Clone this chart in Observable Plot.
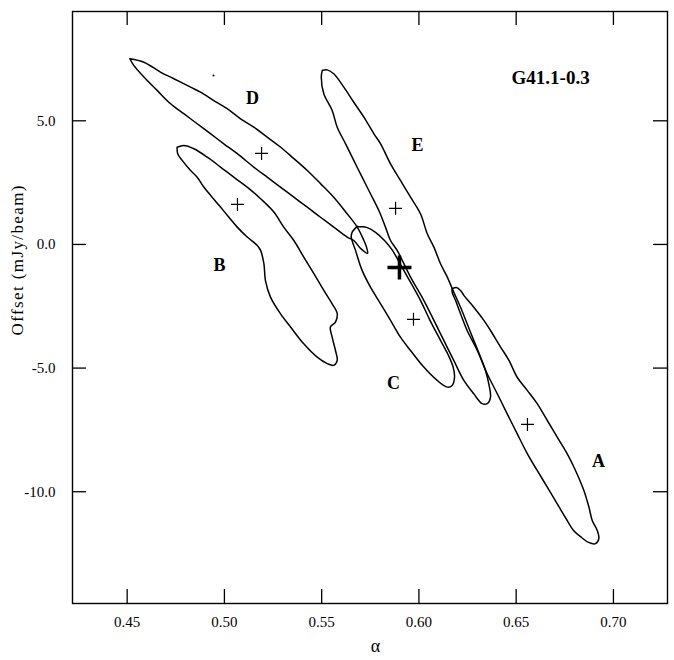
<!DOCTYPE html>
<html><head><meta charset="utf-8">
<script src="https://cdn.jsdelivr.net/npm/d3@7"></script>
<script src="https://cdn.jsdelivr.net/npm/@observablehq/plot@0.6"></script>
<style>body{margin:0;background:#fff}</style>
</head><body><div id="chart"></div>
<script>
// ---- tick values ----
const xTicks = [0.45, 0.50, 0.55, 0.60, 0.65, 0.70];
const yTicks = [5, 0, -5, -10];

// ---- contour outlines: [alpha, offset] ----
const contourA = [[0.6171,-1.79],[0.6193,-1.74],[0.6214,-1.86],[0.6231,-2.06],[0.6282,-2.54],[0.6334,-3.07],[0.6368,-3.48],[0.6420,-4.15],[0.6463,-4.69],[0.6505,-5.37],[0.6557,-5.90],[0.6608,-6.44],[0.6660,-7.12],[0.6711,-7.79],[0.6762,-8.46],[0.6805,-9.14],[0.6848,-9.95],[0.6874,-10.62],[0.6891,-11.16],[0.6917,-11.57],[0.6925,-11.90],[0.6908,-12.10],[0.6872,-12.05],[0.6836,-11.85],[0.6795,-11.57],[0.6762,-11.16],[0.6711,-10.49],[0.6660,-9.81],[0.6608,-9.14],[0.6557,-8.46],[0.6505,-7.65],[0.6454,-6.85],[0.6403,-6.04],[0.6351,-5.23],[0.6300,-4.29],[0.6248,-3.48],[0.6214,-2.80],[0.6188,-2.26],[0.6171,-1.94]];
const contourB = [[0.4757,3.93],[0.4791,4.00],[0.4843,3.87],[0.4912,3.53],[0.4980,3.13],[0.5048,2.72],[0.5117,2.32],[0.5186,1.85],[0.5254,1.31],[0.5305,0.70],[0.5357,0.16],[0.5408,-0.51],[0.5460,-1.18],[0.5511,-1.86],[0.5554,-2.40],[0.5580,-2.80],[0.5571,-3.14],[0.5545,-3.34],[0.5554,-3.75],[0.5571,-4.29],[0.5580,-4.69],[0.5562,-4.89],[0.5529,-4.82],[0.5477,-4.56],[0.5408,-4.02],[0.5340,-3.34],[0.5288,-2.80],[0.5237,-2.13],[0.5211,-1.46],[0.5203,-0.78],[0.5186,-0.24],[0.5169,-0.04],[0.5117,0.30],[0.5066,0.70],[0.5023,1.10],[0.4980,1.51],[0.4937,1.91],[0.4894,2.32],[0.4860,2.72],[0.4826,2.99],[0.4783,3.40],[0.4760,3.67]];
const contourC = [[0.5683,0.73],[0.5657,0.50],[0.5652,0.30],[0.5674,-0.24],[0.5708,-1.05],[0.5751,-1.73],[0.5803,-2.40],[0.5854,-3.07],[0.5905,-3.75],[0.5957,-4.29],[0.6025,-4.96],[0.6094,-5.50],[0.6146,-5.77],[0.6171,-5.70],[0.6183,-5.37],[0.6176,-4.96],[0.6152,-4.49],[0.6111,-3.88],[0.6057,-3.07],[0.6008,-2.26],[0.5952,-1.46],[0.5905,-0.81],[0.5864,-0.24],[0.5823,0.16],[0.5777,0.49],[0.5731,0.69]];
const contourD = [[0.4514,7.51],[0.4586,7.37],[0.4671,6.97],[0.4740,6.70],[0.4826,6.36],[0.4877,6.16],[0.4945,5.82],[0.5014,5.49],[0.5083,5.08],[0.5151,4.74],[0.5220,4.34],[0.5288,3.94],[0.5357,3.47],[0.5426,2.99],[0.5494,2.46],[0.5562,1.91],[0.5631,1.24],[0.5683,0.70],[0.5717,0.16],[0.5731,-0.12],[0.5736,-0.36],[0.5700,-0.16],[0.5665,0.16],[0.5631,0.30],[0.5562,0.70],[0.5494,1.10],[0.5426,1.51],[0.5357,1.91],[0.5288,2.32],[0.5220,2.72],[0.5151,3.13],[0.5066,3.67],[0.4997,4.07],[0.4928,4.48],[0.4860,4.88],[0.4791,5.29],[0.4723,5.69],[0.4654,6.23],[0.4586,6.77],[0.4534,7.24]];
const contourE = [[0.5503,7.04],[0.5529,7.06],[0.5562,6.90],[0.5614,6.36],[0.5665,5.75],[0.5717,5.15],[0.5768,4.48],[0.5803,4.07],[0.5854,3.26],[0.5905,2.59],[0.5957,1.91],[0.6008,1.24],[0.6043,0.43],[0.6077,-0.11],[0.6111,-0.78],[0.6146,-1.32],[0.6179,-1.93],[0.6214,-2.54],[0.6248,-3.21],[0.6282,-3.88],[0.6317,-4.56],[0.6342,-5.10],[0.6359,-5.63],[0.6368,-6.17],[0.6351,-6.44],[0.6325,-6.44],[0.6282,-6.04],[0.6231,-5.50],[0.6179,-4.69],[0.6128,-3.88],[0.6077,-3.07],[0.6025,-2.26],[0.5957,-1.32],[0.5888,-0.24],[0.5854,0.16],[0.5828,0.70],[0.5794,1.37],[0.5751,2.05],[0.5708,2.72],[0.5665,3.40],[0.5623,4.07],[0.5580,4.74],[0.5554,5.42],[0.5511,6.09],[0.5498,6.77]];

// ---- source labels ----
const sourceNames = ["A", "B", "C", "D", "E"];
const sourceLabelAlpha = [0.6923, 0.4975, 0.5869, 0.5144, 0.5993];
const sourceLabelOffset = [-8.77, -0.85, -5.62, 5.90, 4.00];

// ---- fitted positions (small crosses) ----
const crossAlpha = [0.6558, 0.5067, 0.5972, 0.5191, 0.5880];
const crossOffset = [-7.28, 1.62, -3.03, 3.68, 1.46];
// combined position (bold cross)
const mainAlpha = [0.5900];
const mainOffset = [-0.93];

// stray mark
const specAlpha = [0.4944];
const specOffset = [6.83];

const titleText = "G41.1-0.3";
const titleAlpha = [0.6677];
const titleOffset = [6.75];

const xLabel = "α";
const yLabel = "Offset (mJy/beam)";

// build contour table
const contours = {A: contourA, B: contourB, C: contourC, D: contourD, E: contourE};
const contourRows = [];
for (const name of sourceNames) {
  const pts = contours[name];
  for (const p of pts.concat([pts[0]])) contourRows.push({name, alpha: p[0], offset: p[1]});
}

const crossSymbol = {
  draw(ctx, size) {
    const h = Math.sqrt(size / Math.PI);
    ctx.moveTo(-h, 0); ctx.lineTo(h, 0);
    ctx.moveTo(0, -h); ctx.lineTo(0, h);
  }
};

const W = 674, H = 660, ML = 72, MR = 7, MT = 11, MB = 57;
const PW = W - ML - MR, PH = H - MT - MB, TL = 14;
const serif = "Liberation Serif, Times New Roman, serif";

const chart = Plot.plot({
  width: W, height: H,
  marginLeft: ML, marginRight: MR, marginTop: MT, marginBottom: MB,
  x: {domain: [0.4219, 0.7278]},
  y: {domain: [-14.52, 9.42]},
  style: {fontFamily: serif, background: "white", color: "black", overflow: "visible"},
  marks: [
    Plot.frame({stroke: "black", strokeWidth: 1.4}),
    Plot.ruleX(xTicks, {x: d => d, insetTop: PH - TL, stroke: "black", strokeWidth: 1.3}),
    Plot.ruleX(xTicks, {x: d => d, insetBottom: PH - TL, stroke: "black", strokeWidth: 1.3}),
    Plot.ruleY(yTicks, {y: d => d, insetRight: PW - TL, stroke: "black", strokeWidth: 1.3}),
    Plot.ruleY(yTicks, {y: d => d, insetLeft: PW - TL, stroke: "black", strokeWidth: 1.3}),
    Plot.axisX(xTicks, {tickSize: 0, tickPadding: 13, tickFormat: d => d.toFixed(2), fontSize: 15, label: null, fontFamily: serif}),
    Plot.axisY(yTicks, {tickSize: 0, tickPadding: 17, tickFormat: d => d.toFixed(1), fontSize: 15, label: null, fontFamily: serif}),
    Plot.text([xLabel], {frameAnchor: "bottom", dx: 5.5, dy: 48, fontSize: 18, fontFamily: serif}),
    Plot.text([yLabel], {frameAnchor: "left", rotate: -90, dx: -54.5, dy: 28, fontSize: 17, fontFamily: serif}),
    Plot.line(contourRows, {x: "alpha", y: "offset", z: "name", stroke: "black", strokeWidth: 1.5, curve: "catmull-rom"}),
    Plot.dot(crossAlpha, {x: crossAlpha, y: crossOffset, symbol: crossSymbol, r: 6.5, stroke: "black", strokeWidth: 1.2, fill: "none"}),
    Plot.dot(mainAlpha, {x: mainAlpha, y: mainOffset, symbol: crossSymbol, r: 12, stroke: "black", strokeWidth: 3.5, fill: "none"}),
    Plot.dot(specAlpha, {x: specAlpha, y: specOffset, r: 1, fill: "black", stroke: "none"}),
    Plot.text(sourceNames, {x: sourceLabelAlpha, y: sourceLabelOffset, text: d => d, fontSize: 18, fontWeight: "bold", fontFamily: serif}),
    Plot.text([titleText], {x: titleAlpha, y: titleOffset, text: d => d, fontSize: 19, fontWeight: "bold", fontFamily: serif})
  ]
});
// stretch the rotated y label to the reference's length
d3.select(chart).selectAll("text").filter(function() { return this.textContent === yLabel; })
  .attr("textLength", 150).attr("lengthAdjust", "spacing");
document.getElementById("chart").appendChild(chart);
</script>
</body></html>
